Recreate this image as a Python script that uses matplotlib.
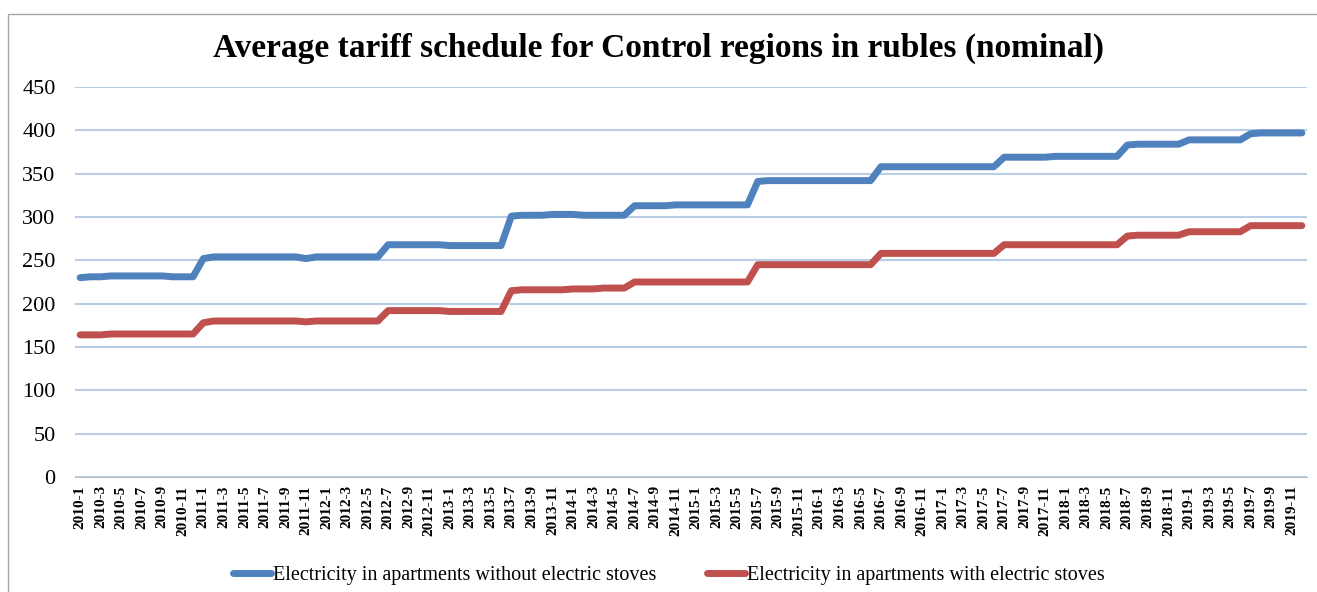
import matplotlib.pyplot as plt
from matplotlib.patches import Rectangle

years = list(range(2010, 2020))
months = [f"{y}-{m}" for y in years for m in range(1, 13)]

# without electric stoves
no_stoves = [230, 231, 231, 232, 232, 232, 232, 232, 232, 231, 231, 231,
             252, 254, 254, 254, 254, 254, 254, 254, 254, 254, 252, 254,
             254, 254, 254, 254, 254, 254, 268, 268, 268, 268, 268, 268,
             267, 267, 267, 267, 267, 267, 301, 302, 302, 302, 303, 303,
             303, 302, 302, 302, 302, 302, 313, 313, 313, 313, 314, 314,
             314, 314, 314, 314, 314, 314, 341, 342, 342, 342, 342, 342,
             342, 342, 342, 342, 342, 342, 358, 358, 358, 358, 358, 358,
             358, 358, 358, 358, 358, 358, 369, 369, 369, 369, 369, 370,
             370, 370, 370, 370, 370, 370, 383, 384, 384, 384, 384, 384,
             389, 389, 389, 389, 389, 389, 396, 397, 397, 397, 397, 397]

# with electric stoves
with_stoves = [164, 164, 164, 165, 165, 165, 165, 165, 165, 165, 165, 165,
               178, 180, 180, 180, 180, 180, 180, 180, 180, 180, 179, 180,
               180, 180, 180, 180, 180, 180, 192, 192, 192, 192, 192, 192,
               191, 191, 191, 191, 191, 191, 215, 216, 216, 216, 216, 216,
               217, 217, 217, 218, 218, 218, 225, 225, 225, 225, 225, 225,
               225, 225, 225, 225, 225, 225, 245, 245, 245, 245, 245, 245,
               245, 245, 245, 245, 245, 245, 258, 258, 258, 258, 258, 258,
               258, 258, 258, 258, 258, 258, 268, 268, 268, 268, 268, 268,
               268, 268, 268, 268, 268, 268, 278, 279, 279, 279, 279, 279,
               283, 283, 283, 283, 283, 283, 290, 290, 290, 290, 290, 290]

serif = ['Liberation Serif', 'DejaVu Serif']
plt.rcParams['font.family'] = serif

fig = plt.figure(figsize=(13.17, 5.92), dpi=100)
ax = fig.add_axes([75 / 1317, 1 - 477 / 592, 1232 / 1317, 390 / 592])

x = list(range(len(months)))
ax.plot(x, no_stoves, color='#4f81bd', lw=5, solid_capstyle='round', solid_joinstyle='round',
        label='Electricity in apartments without electric stoves')
ax.plot(x, with_stoves, color='#c0504d', lw=5, solid_capstyle='round', solid_joinstyle='round',
        label='Electricity in apartments with electric stoves')

ax.set_xlim(-0.5, len(months) - 0.5)
ax.set_ylim(0, 450)
ax.set_yticks(range(0, 451, 50))
ax.set_xticks(x[::2])
ax.set_xticklabels(months[::2], rotation=90, fontsize=11, fontweight='bold')
ax.tick_params(axis='y', labelsize=16, length=0, pad=14)
ax.tick_params(axis='x', length=0, pad=6)
ax.grid(axis='y', color='#b9cde5', lw=1.5)
ax.set_axisbelow(True)
for s in ['top', 'right', 'left']:
    ax.spines[s].set_visible(False)
ax.spines['bottom'].set_color('#bfbfbf')
ax.spines['bottom'].set_zorder(0.5)

fig.suptitle('Average tariff schedule for Control regions in rubles (nominal)',
             fontsize=24, fontweight='bold', y=0.945)

fig.legend(loc='center', bbox_to_anchor=(0.508, 0.028), ncol=2, frameon=False,
           fontsize=14.5, handlelength=1.9, handletextpad=0.1, columnspacing=2.5)

fig.patches.append(Rectangle((8 / 1317, -0.01), 1.1, 1 - 14 / 592 + 0.01, transform=fig.transFigure,
                             fill=False, edgecolor='#a6a6a6', lw=1))

fig.savefig('out.png', dpi=100)
